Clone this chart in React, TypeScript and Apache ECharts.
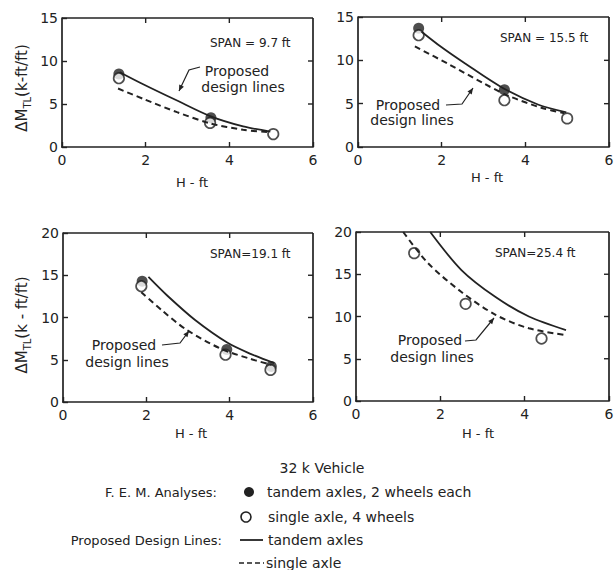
import React, { useEffect, useRef } from "react";
import * as echarts from "echarts";

const INK = "#222";
const FONT = "DejaVu Sans";

// ---- Axis setup ----
const X_MIN = 0;
const X_MAX = 6;
const X_STEP = 2;
const Y_STEP = 5;
const yMaxes = [15, 15, 20, 20];
const spanLabels = ["SPAN = 9.7 ft", "SPAN = 15.5 ft", "SPAN=19.1 ft", "SPAN=25.4 ft"];

// ---- Panel 1: SPAN 9.7 ft ----
const p1FemTandemH = [1.36, 3.56];
const p1FemTandemM = [8.5, 3.4];
const p1FemSingleH = [1.36, 3.54, 5.05];
const p1FemSingleM = [8.0, 2.8, 1.5];
const p1LineTandemH = [1.38, 1.94, 2.75, 3.54, 4.33, 4.98];
const p1LineTandemM = [8.7, 7.3, 5.4, 3.6, 2.4, 1.8];
const p1LineSingleH = [1.34, 1.94, 2.75, 3.54, 4.33, 4.9];
const p1LineSingleM = [6.8, 5.6, 4.05, 2.75, 2.0, 1.75];

// ---- Panel 2: SPAN 15.5 ft ----
const p2FemTandemH = [1.45, 3.5];
const p2FemTandemM = [13.7, 6.6];
const p2FemSingleH = [1.45, 3.5, 5.0];
const p2FemSingleM = [12.9, 5.4, 3.3];
const p2LineTandemH = [1.52, 2.0, 2.57, 3.43, 4.3, 4.98];
const p2LineTandemM = [13.3, 11.5, 9.6, 6.9, 4.9, 4.0];
const p2LineSingleH = [1.36, 2.19, 2.98, 3.6, 4.4, 4.93];
const p2LineSingleM = [11.6, 9.5, 7.4, 5.9, 4.5, 3.9];

// ---- Panel 3: SPAN 19.1 ft ----
const p3FemTandemH = [1.9, 3.93, 5.0];
const p3FemTandemM = [14.3, 6.2, 4.2];
const p3FemSingleH = [1.88, 3.9, 4.98];
const p3FemSingleM = [13.7, 5.6, 3.8];
const p3LineTandemH = [2.05, 2.5, 3.17, 3.95, 4.5, 5.07];
const p3LineTandemM = [14.8, 12.6, 9.7, 7.0, 5.7, 4.6];
const p3LineSingleH = [1.88, 2.36, 2.95, 3.79, 4.5, 5.0];
const p3LineSingleM = [13.0, 10.9, 8.6, 6.3, 5.1, 4.4];

// ---- Panel 4: SPAN 25.4 ft ----
const p4FemTandemH: number[] = [];
const p4FemTandemM: number[] = [];
const p4FemSingleH = [1.38, 2.6, 4.4];
const p4FemSingleM = [17.5, 11.5, 7.4];
const p4LineTandemH = [1.76, 2.5, 3.31, 4.1, 4.98];
const p4LineTandemM = [20.0, 15.5, 12.3, 10.0, 8.4];
const p4LineSingleH = [1.12, 1.71, 2.5, 3.31, 4.1, 4.98];
const p4LineSingleM = [20.0, 16.3, 12.9, 10.2, 8.6, 7.8];

function zip(h: number[], m: number[]) {
  return h.map((v, i) => [v, m[i]]);
}

const panelData = [
  { ft: zip(p1FemTandemH, p1FemTandemM), fs: zip(p1FemSingleH, p1FemSingleM), lt: zip(p1LineTandemH, p1LineTandemM), ls: zip(p1LineSingleH, p1LineSingleM) },
  { ft: zip(p2FemTandemH, p2FemTandemM), fs: zip(p2FemSingleH, p2FemSingleM), lt: zip(p2LineTandemH, p2LineTandemM), ls: zip(p2LineSingleH, p2LineSingleM) },
  { ft: zip(p3FemTandemH, p3FemTandemM), fs: zip(p3FemSingleH, p3FemSingleM), lt: zip(p3LineTandemH, p3LineTandemM), ls: zip(p3LineSingleH, p3LineSingleM) },
  { ft: zip(p4FemTandemH, p4FemTandemM), fs: zip(p4FemSingleH, p4FemSingleM), lt: zip(p4LineTandemH, p4LineTandemM), ls: zip(p4LineSingleH, p4LineSingleM) },
];

// layout (pixels)
const grids = [
  { left: 62, top: 18, width: 251, height: 129 },
  { left: 358, top: 17, width: 251, height: 130 },
  { left: 63, top: 233, width: 250, height: 169 },
  { left: 356, top: 232, width: 253, height: 169 },
];

function arrowHead(pts: number[][], len = 6, half = 2.6) {
  const [x1, y1] = pts[pts.length - 2];
  const [x2, y2] = pts[pts.length - 1];
  const dx = x2 - x1, dy = y2 - y1;
  const d = Math.hypot(dx, dy);
  const ux = dx / d, uy = dy / d;
  const bx = x2 - ux * len, by = y2 - uy * len;
  return {
    type: "polygon",
    shape: { points: [[x2, y2], [bx - uy * half, by + ux * half], [bx + uy * half, by - ux * half]] },
    style: { fill: INK },
  };
}

function txt(text: string, x: number, y: number, fontSize: number, align = "center") {
  return {
    type: "text",
    x,
    y,
    style: { text, fontSize, fontFamily: FONT, fill: INK, align, verticalAlign: "middle" },
  };
}

function leader(pts: number[][]) {
  return [
    { type: "polyline", shape: { points: pts }, style: { stroke: INK, lineWidth: 1.2, fill: null } },
    arrowHead(pts),
  ];
}

function yTitle(x: number, y: number, unit: string) {
  return {
    type: "text",
    x,
    y,
    rotation: Math.PI / 2,
    style: {
      text: `{a|ΔM}{b|TL}{a|${unit}}`,
      align: "center",
      verticalAlign: "middle",
      fill: INK,
      fontFamily: FONT,
      rich: {
        a: { fontSize: 15, fontFamily: FONT, fill: INK, lineHeight: 20 },
        b: { fontSize: 10, fontFamily: FONT, fill: INK, lineHeight: 10, verticalAlign: "bottom" },
      },
    },
  };
}

// Top and right edges of each panel frame, with inward ticks at the axes' tick values
function frameFor(i: number) {
  const g = grids[i];
  const xl = g.left, xr = g.left + g.width, yt = g.top, yb = g.top + g.height;
  const out: any[] = [
    { type: "line", shape: { x1: xl, y1: yt, x2: xr, y2: yt }, style: { stroke: INK, lineWidth: 1.7 } },
    { type: "line", shape: { x1: xr, y1: yt, x2: xr, y2: yb }, style: { stroke: INK, lineWidth: 1.7 } },
  ];
  for (let v = X_MIN + X_STEP; v < X_MAX; v += X_STEP) {
    const px = xl + ((v - X_MIN) / (X_MAX - X_MIN)) * g.width;
    out.push({ type: "line", shape: { x1: px, y1: yt, x2: px, y2: yt + 5 }, style: { stroke: INK, lineWidth: 1.4 } });
  }
  for (let v = Y_STEP; v < yMaxes[i]; v += Y_STEP) {
    const py = yb - (v / yMaxes[i]) * g.height;
    out.push({ type: "line", shape: { x1: xr, y1: py, x2: xr - 5, y2: py }, style: { stroke: INK, lineWidth: 1.4 } });
  }
  return out;
}

const axisLine = () => ({ show: true, onZero: false, lineStyle: { color: INK, width: 1.7 } });
const axisTick = () => ({ show: true, inside: true, length: 5, lineStyle: { color: INK, width: 1.4 } });
const labelStyle = () => ({ color: INK, fontFamily: FONT, fontSize: 14, showMinLabel: true, showMaxLabel: true });

export default function App() {
  const ref = useRef<HTMLDivElement>(null);
  useEffect(() => {
    if (!ref.current) return;
    const chart = echarts.init(ref.current, undefined, { renderer: "svg" });

    const xAxis: any[] = [];
    const yAxis: any[] = [];
    const series: any[] = [];
    grids.forEach((_, i) => {
      xAxis.push({
        type: "value", gridIndex: i, min: X_MIN, max: X_MAX, interval: X_STEP, position: "bottom",
        axisLine: axisLine(), axisTick: axisTick(), splitLine: { show: false },
        axisLabel: { ...labelStyle(), margin: 6 },
      });
      yAxis.push({
        type: "value", gridIndex: i, min: 0, max: yMaxes[i], interval: Y_STEP, position: "left",
        axisLine: axisLine(), axisTick: axisTick(), splitLine: { show: false },
        axisLabel: { ...labelStyle(), margin: 4 },
      });
      const d = panelData[i];
      const ax = { xAxisIndex: i, yAxisIndex: i };
      series.push({
        type: "line", ...ax, data: d.lt, smooth: 0.3, symbol: "none",
        lineStyle: { color: INK, width: 1.8 },
      });
      series.push({
        type: "line", ...ax, data: d.ls, smooth: 0.3, symbol: "none",
        lineStyle: { color: INK, width: 2, type: [6, 4] },
      });
      series.push({
        type: "scatter", ...ax, data: d.ft, symbol: "circle", symbolSize: 11,
        itemStyle: { color: INK },
      });
      series.push({
        type: "scatter", ...ax, data: d.fs, symbol: "circle", symbolSize: 10.5,
        itemStyle: { color: "#fff", borderColor: INK, borderWidth: 1.7 },
      });
    });

    const graphics: any[] = [
      ...frameFor(0),
      ...frameFor(1),
      ...frameFor(2),
      ...frameFor(3),
      // span labels
      txt(spanLabels[0], 210, 43, 12, "left"),
      txt(spanLabels[1], 500, 38, 12, "left"),
      txt(spanLabels[2], 210, 254, 12, "left"),
      txt(spanLabels[3], 495, 253, 12, "left"),
      // x-axis titles
      txt("H - ft", 192, 182, 13),
      txt("H - ft", 487, 177, 13),
      txt("H - ft", 191, 433, 13),
      txt("H - ft", 478, 433, 13),
      // y-axis titles
      yTitle(22, 88, "(k-ft/ft)"),
      yTitle(22, 325, "(k - ft/ft)"),
      // "Proposed design lines" notes
      txt("Proposed", 237, 71, 14),
      txt("design lines", 243, 87, 14),
      ...leader([[200, 67], [189, 70], [179, 91]]),
      txt("Proposed", 408, 105, 14),
      txt("design lines", 412, 120, 14),
      ...leader([[446, 105], [462, 104], [473, 88]]),
      txt("Proposed", 124, 345, 14),
      txt("design lines", 127, 362, 14),
      ...leader([[162, 345], [180, 343], [189, 331]]),
      txt("Proposed", 430, 340, 14),
      txt("design lines", 432, 357, 14),
      ...leader([[465, 341], [476, 340], [494, 318]]),
      // legend
      txt("32 k Vehicle", 322, 468, 14),
      txt("F. E. M. Analyses:", 217, 492, 13, "right"),
      { type: "circle", shape: { cx: 249, cy: 492, r: 5 }, style: { fill: INK } },
      txt("tandem axles, 2 wheels each", 267, 492, 14, "left"),
      { type: "circle", shape: { cx: 246, cy: 517, r: 5 }, style: { fill: "#fff", stroke: INK, lineWidth: 1.6 } },
      txt("single axle, 4 wheels", 268, 517, 14, "left"),
      txt("Proposed Design Lines:", 222, 540, 13, "right"),
      { type: "line", shape: { x1: 240, y1: 540, x2: 263, y2: 540 }, style: { stroke: INK, lineWidth: 1.8 } },
      txt("tandem axles", 268, 540, 14, "left"),
      { type: "line", shape: { x1: 239, y1: 563, x2: 264, y2: 563 }, style: { stroke: INK, lineWidth: 1.6, lineDash: [5, 3] } },
      txt("single axle", 266, 563, 14, "left"),
    ];

    chart.setOption({
      animation: false,
      backgroundColor: "#fff",
      textStyle: { fontFamily: FONT },
      grid: grids.map((g) => ({ ...g, containLabel: false, outerBoundsMode: "none" })),
      xAxis,
      yAxis,
      series,
      graphic: graphics,
    });

    return () => chart.dispose();
  }, []);
  return (
    <div
      ref={ref}
      style={{ position: "fixed", left: 0, top: 0, width: 616, height: 570, background: "#fff" }}
    />
  );
}
